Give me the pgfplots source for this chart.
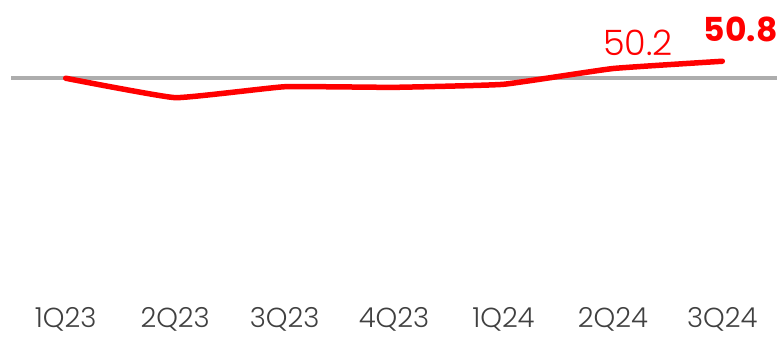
\documentclass[border=0pt]{standalone}
\usepackage{fontspec}
\setmainfont{Poppins}[UprightFont=* Light, BoldFont=* Bold]
\usepackage{pgfplots}
\pgfplotsset{compat=1.18}
\definecolor{lred}{HTML}{FF0000}
\definecolor{lgray}{HTML}{ADADAD}
\definecolor{tgray}{HTML}{404040}
\begin{document}
\begin{tikzpicture}
\useasboundingbox (-11bp,-38bp) rectangle (766bp,300bp);
\begin{axis}[
  at={(0,0)}, anchor=south west,
  scale only axis, width=766bp, height=300bp,
  xmin=-0.5, xmax=6.5, ymin=31.12, ymax=55.85,
  axis line style={draw=none}, tick style={draw=none},
  ytick=\empty,
  xtick={0,1,2,3,4,5,6},
  xticklabels={1Q23,2Q23,3Q23,4Q23,1Q24,2Q24,3Q24},
  xticklabel style={anchor=base, yshift=-27.5bp, font=\fontsize{27.5bp}{30bp}\selectfont, text=tgray, inner sep=0pt, text depth=0pt},
  clip=false,
]
\addplot[lgray, line width=4bp] coordinates {(-0.5,49.45) (6.5,49.45)};
\addplot[lred, line width=5.5bp, smooth, tension=0.2, line cap=round] coordinates {
 (0,49.4) (1,47.8) (2,48.7) (3,48.65) (4,48.9) (5,50.2) (6,50.8)};
\node[anchor=base, xshift=25bp, yshift=12.7bp, text=lred, inner sep=0pt, font=\fontsize{35bp}{36bp}\selectfont] at (axis cs:5,50.2) {50.2};
\node[anchor=base, xshift=18.5bp, yshift=20bp, text=lred, inner sep=0pt, font=\fontsize{33bp}{36bp}\selectfont\bfseries] at (axis cs:6,50.8) {50.8};
\end{axis}
\end{tikzpicture}
\end{document}
